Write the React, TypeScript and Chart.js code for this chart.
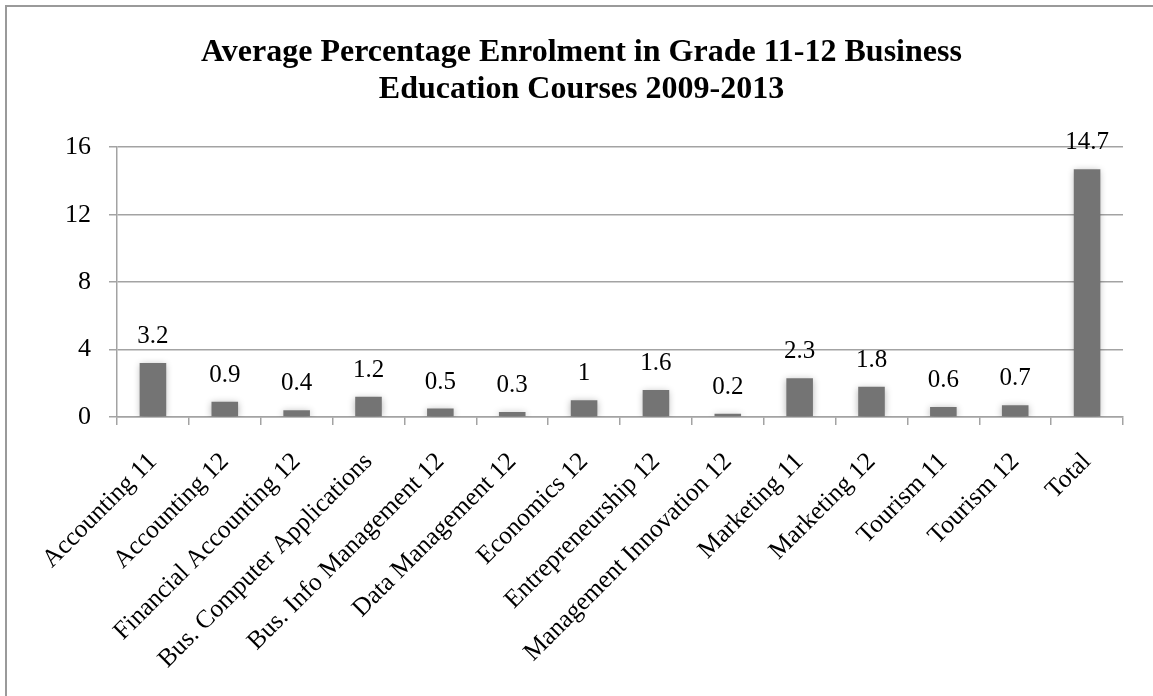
import React, { useEffect, useRef } from "react";
import { Chart, registerables } from "chart.js";

Chart.register(...registerables);

const titleLines = [
  "Average Percentage Enrolment in Grade 11-12 Business",
  "Education Courses 2009-2013",
];

const categories = [
  "Accounting 11",
  "Accounting 12",
  "Financial Accounting 12",
  "Bus. Computer Applications",
  "Bus. Info Management 12",
  "Data Management 12",
  "Economics 12",
  "Entrepreneurship 12",
  "Management Innovation 12",
  "Marketing 11",
  "Marketing 12",
  "Tourism 11",
  "Tourism 12",
  "Total",
];

const values = [3.2, 0.9, 0.4, 1.2, 0.5, 0.3, 1.0, 1.6, 0.2, 2.3, 1.8, 0.6, 0.7, 14.7];
const valueLabels = ["3.2", "0.9", "0.4", "1.2", "0.5", "0.3", "1", "1.6", "0.2", "2.3", "1.8", "0.6", "0.7", "14.7"];

const yMin = 0;
const yMax = 16;
const yStep = 4;

const SERIF = "'Liberation Serif', 'DejaVu Serif', serif";
const GRID = "#a3a3a3";
const BAR = "#747474";

export default function App() {
  const ref = useRef<HTMLCanvasElement | null>(null);

  useEffect(() => {
    if (!ref.current) return;

    const shadowPlugin = {
      id: "barShadow",
      beforeDatasetsDraw(chart: any) {
        const ctx = chart.ctx;
        ctx.save();
        ctx.shadowColor = "rgba(0,0,0,0.3)";
        ctx.shadowBlur = 7;
        ctx.shadowOffsetX = 0;
        ctx.shadowOffsetY = 1;
      },
      afterDatasetsDraw(chart: any) {
        chart.ctx.restore();
      },
    };

    const labelPlugin = {
      id: "valueLabels",
      afterDraw(chart: any) {
        const ctx = chart.ctx;
        const meta = chart.getDatasetMeta(0);
        ctx.save();
        ctx.fillStyle = "#000";
        ctx.font = `25px ${SERIF}`;
        ctx.textAlign = "center";
        ctx.textBaseline = "alphabetic";
        meta.data.forEach((bar: any, i: number) => {
          ctx.fillText(valueLabels[i], bar.x, bar.y - 20);
        });
        ctx.restore();
      },
    };

    const chart = new Chart(ref.current, {
      type: "bar",
      data: {
        labels: categories,
        datasets: [
          {
            data: values,
            backgroundColor: BAR,
            borderWidth: 0,
            categoryPercentage: 1,
            barPercentage: 0.37,
          },
        ],
      },
      options: {
        animation: false,
        responsive: false,
        maintainAspectRatio: false,
        layout: { padding: { left: 40, right: 30, top: 0, bottom: 0 } },
        plugins: {
          legend: { display: false },
          tooltip: { enabled: false },
          title: {
            display: true,
            text: titleLines,
            color: "#000",
            font: { family: "'Liberation Serif', serif", size: 32, weight: "bold", lineHeight: 1.16 },
            padding: { top: 34, bottom: 39 },
          },
        },
        scales: {
          x: {
            offset: true,
            grid: {
              display: true,
              offset: true,
              drawOnChartArea: false,
              drawTicks: true,
              tickLength: 8,
              color: GRID,
              lineWidth: 1.5,
            },
            border: { display: true, color: GRID, width: 1.5 },
            ticks: {
              autoSkip: false,
              maxRotation: 45,
              minRotation: 45,
              color: "#000",
              padding: 22,
              font: { family: SERIF, size: 25.5 },
            },
            afterFit(scale: any) {
              scale.height = 279;
            },
          },
          y: {
            min: yMin,
            max: yMax,
            ticks: {
              stepSize: yStep,
              color: "#000",
              padding: 18,
              font: { family: SERIF, size: 26 },
            },
            grid: {
              color: GRID,
              lineWidth: 1.5,
              tickLength: 8,
            },
            border: { display: true, color: GRID, width: 1.5 },
            afterFit(scale: any) {
              scale.width = 77;
            },
          },
        },
      },
      plugins: [shadowPlugin, labelPlugin],
    });

    return () => chart.destroy();
  }, []);

  return (
    <div style={{ position: "fixed", left: 0, top: 0, width: 1153, height: 696, background: "#fff", overflow: "hidden" }}>
      <div
        style={{
          position: "absolute",
          left: 5,
          top: 5,
          width: 1300,
          height: 900,
          borderLeft: "2px solid #9a9a9a",
          borderTop: "2px solid #9a9a9a",
        }}
      />
      <canvas ref={ref} width={1153} height={696} style={{ position: "absolute", left: 0, top: 0, width: 1153, height: 696 }} />
    </div>
  );
}
